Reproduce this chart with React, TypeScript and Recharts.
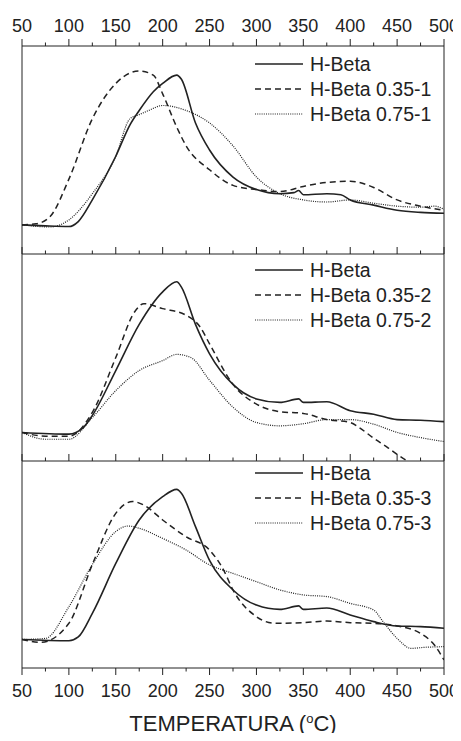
import { LineChart, Line, XAxis, YAxis, Legend } from "recharts";

const FONT = "'Liberation Sans', Arial, Helvetica, sans-serif";
const INK = "#222";

type Pt = [number, number];

const majorTicks = [50, 100, 150, 200, 250, 300, 350, 400, 450, 500];
const minorTicks = [75, 125, 175, 225, 275, 325, 375, 425, 475];
const allTicks = [...majorTicks, ...minorTicks].sort((a, b) => a - b);

// panel 1
const hBeta1: Pt[] = [
  [50, 14], [75, 13.5], [100, 13.2], [110, 15.6], [125, 26], [150, 47], [165, 62],
  [175, 69], [190, 78], [200, 82], [215, 86], [220, 84], [235, 63], [250, 50], [275, 37],
  [300, 31], [325, 29], [340, 29.5], [345, 30.5], [350, 28.5], [375, 29], [390, 28.5],
  [400, 26], [425, 23.5], [450, 21], [475, 20], [500, 19.6],
];
const beta035_1: Pt[] = [
  [50, 14], [65, 14.5], [80, 18], [100, 36], [125, 65], [150, 82], [165, 87],
  [175, 88], [190, 86], [200, 77], [215, 61], [225, 52], [250, 40.5], [275, 33],
  [300, 31], [325, 30], [350, 32.5], [375, 34.4], [400, 35], [425, 32], [450, 26],
  [475, 23], [500, 21],
];
const beta075_1: Pt[] = [
  [50, 14], [80, 13], [100, 16.4], [125, 29], [150, 47], [165, 65], [175, 67],
  [185, 69], [200, 71.4], [225, 69], [250, 63], [275, 52], [300, 37], [325, 29],
  [350, 26], [375, 25], [400, 26], [425, 24.4], [450, 23], [475, 22.5], [490, 23],
  [500, 21.5],
];

// panel 2
const hBeta2: Pt[] = [
  [50, 13.8], [100, 13], [115, 16], [125, 22], [150, 43.7], [175, 66], [200, 81.7],
  [215, 86.6], [220, 84], [235, 66], [250, 51.8], [275, 37], [300, 30], [325, 28.3],
  [345, 30], [350, 28.3], [375, 28.6], [400, 24.3], [425, 22.6], [450, 20],
  [475, 19.7], [500, 19],
];
const beta035_2: Pt[] = [
  [50, 13.8], [75, 12], [100, 12], [125, 23.5], [150, 50], [170, 72], [180, 76],
  [200, 73.6], [225, 70.4], [240, 64.7], [250, 56.6], [275, 37], [300, 27.5],
  [325, 23.8], [350, 23], [375, 20], [400, 18.6], [410, 16], [425, 11], [440, 6.5],
  [450, 3.2], [460, 0.3], [480, -4], [500, -10],
];
const beta075_2: Pt[] = [
  [50, 13.8], [75, 10.5], [100, 10.5], [125, 21], [150, 34], [175, 43.7], [200, 48.5],
  [215, 51.5], [230, 50], [250, 39], [275, 26], [300, 18.6], [325, 17], [350, 18],
  [375, 20], [400, 20], [425, 17.8], [450, 13.8], [475, 11.3], [500, 9.4],
];

// panel 3
const hBeta3: Pt[] = [
  [50, 13.8], [100, 13.2], [110, 15], [125, 26.4], [150, 50.5], [175, 71.5],
  [200, 82.8], [215, 86.3], [220, 84.4], [235, 68.3], [250, 52], [275, 37.7],
  [300, 30.4], [325, 28.3], [345, 30], [350, 28.3], [375, 29], [400, 25.6],
  [425, 22.4], [450, 20.3], [475, 20], [500, 19.2],
];
const beta035_3: Pt[] = [
  [50, 13.8], [70, 12.4], [100, 21.6], [125, 50], [150, 74.7], [168, 80.4],
  [180, 78.7], [200, 71.5], [225, 63.4], [250, 57], [265, 47.3], [275, 37.7],
  [300, 24.8], [320, 21.6], [350, 21.9], [375, 22.7], [400, 21.9], [425, 21.6],
  [450, 20.3], [475, 16.7], [490, 11], [500, 3.9],
];
const beta075_3: Pt[] = [
  [50, 13.8], [75, 14.3], [100, 29.6], [125, 50], [150, 65.9], [163, 68.6],
  [175, 67.5], [200, 62.6], [225, 57], [250, 49.8], [275, 45.7], [300, 41.7],
  [325, 37.7], [350, 35.3], [375, 34.5], [400, 31.2], [425, 28], [435, 22.4],
  [450, 14.3], [465, 9.5], [480, 10], [500, 10.3],
];

const styles = [
  { dash: undefined as string | undefined, width: 1.6 },
  { dash: "6 4", width: 1.5 },
  { dash: "1 1.2", width: 1.2 },
];

const toRows = (pts: Pt[]) => pts.map(([t, v]) => ({ t, v }));

const TopTick = (props: any) => {
  const { x, y, payload } = props;
  const major = majorTicks.includes(payload.value);
  return (
    <g>
      <line x1={x} x2={x} y1={y} y2={y - (major ? 7 : 3.5)} stroke={INK} />
      {major && (
        <text x={x} y={y - 14} textAnchor="middle" fontSize={18} fill={INK} fontFamily={FONT}>
          {payload.value}
        </text>
      )}
    </g>
  );
};

const InnerTick = (props: any) => {
  const { x, y, payload } = props;
  const major = majorTicks.includes(payload.value);
  return <line x1={x} x2={x} y1={y} y2={y - (major ? 7 : 3.5)} stroke={INK} />;
};

const BottomTick = (props: any) => {
  const { x, y, payload } = props;
  const major = majorTicks.includes(payload.value);
  return (
    <g>
      <line x1={x} x2={x} y1={y} y2={y + (major ? 7 : 3.5)} stroke={INK} />
      {major && (
        <text x={x} y={y + 29} textAnchor="middle" fontSize={18} fill={INK} fontFamily={FONT}>
          {payload.value}
        </text>
      )}
    </g>
  );
};

const TitleLabel = (props: any) => {
  const vb = props.viewBox || {};
  return (
    <text x={vb.x + vb.width / 2} y={vb.y + 63} textAnchor="middle" fontSize={22} fill={INK} fontFamily={FONT}>
      TEMPERATURA (<tspan dy={-8} fontSize={13}>o</tspan>
      <tspan dy={8}>C)</tspan>
    </text>
  );
};

const makeLegend = (names: string[]) => () => (
  <div style={{ fontFamily: FONT, fontSize: 19.5, color: INK }}>
    {names.map((n, i) => (
      <div key={n} style={{ display: "flex", alignItems: "center", height: 25, whiteSpace: "nowrap" }}>
        <svg width={48} height={10} style={{ marginRight: 7 }}>
          <line x1={0} x2={48} y1={5} y2={5} stroke={INK} strokeWidth={styles[i].width} strokeDasharray={styles[i].dash} />
        </svg>
        <span>{n}</span>
      </div>
    ))}
  </div>
);

type PanelProps = {
  series: Pt[][];
  names: string[];
  top: number;
  height: number;
  marginTop: number;
  showTop?: boolean;
  last?: boolean;
  legendTop: number;
};

function Panel({ series, names, top, height, marginTop, showTop, last, legendTop }: PanelProps) {
  return (
    <div style={{ position: "absolute", left: 0, top }}>
      <LineChart width={453} height={height} margin={{ top: marginTop, right: 16, bottom: 0, left: 13 }}>
        {showTop && (
          <XAxis
            xAxisId="top"
            orientation="top"
            type="number"
            dataKey="t"
            domain={[50, 500]}
            ticks={allTicks}
            interval={0}
            height={30}
            tickSize={0}
            tickMargin={0}
            tickLine={false}
            tick={<TopTick />}
            stroke={INK}
            allowDataOverflow
          />
        )}
        <XAxis
          type="number"
          dataKey="t"
          domain={[50, 500]}
          ticks={allTicks}
          interval={0}
          height={last ? 68 : 1}
          tickSize={0}
          tickMargin={0}
          tickLine={false}
          tick={last ? <BottomTick /> : <InnerTick />}
          stroke={INK}
          allowDataOverflow
          label={last ? <TitleLabel /> : undefined}
        />
        <YAxis type="number" domain={[0, 100]} width={1} tick={false} tickLine={false} stroke={INK} allowDataOverflow />
        <YAxis yAxisId="r" orientation="right" type="number" domain={[0, 100]} width={1} tick={false} tickLine={false} stroke={INK} />
        <Legend
          layout="vertical"
          align="center"
          verticalAlign="middle"
          content={makeLegend(names)}
          wrapperStyle={{ top: legendTop, left: 247, width: 200 }}
        />
        {series.map((pts, i) => (
          <Line
            key={names[i]}
            data={toRows(pts)}
            dataKey="v"
            name={names[i]}
            type="monotone"
            stroke={INK}
            strokeWidth={styles[i].width}
            strokeDasharray={styles[i].dash}
            dot={false}
            activeDot={false}
            isAnimationActive={false}
          />
        ))}
      </LineChart>
    </div>
  );
}

export default function App() {
  return (
    <div style={{ position: "relative", width: 445, height: 725 }}>
      <Panel
        series={[hBeta1, beta035_1, beta075_1]}
        names={["H-Beta", "H-Beta 0.35-1", "H-Beta 0.75-1"]}
        top={0}
        height={247}
        marginTop={8}
        showTop
        legendTop={43.5}
      />
      <Panel
        series={[hBeta2, beta035_2, beta075_2]}
        names={["H-Beta", "H-Beta 0.35-2", "H-Beta 0.75-2"]}
        top={245}
        height={209}
        marginTop={1}
        legendTop={4.5}
      />
      <Panel
        series={[hBeta3, beta035_3, beta075_3]}
        names={["H-Beta", "H-Beta 0.35-3", "H-Beta 0.75-3"]}
        top={452}
        height={276}
        marginTop={1}
        last
        legendTop={0.5}
      />
    </div>
  );
}
